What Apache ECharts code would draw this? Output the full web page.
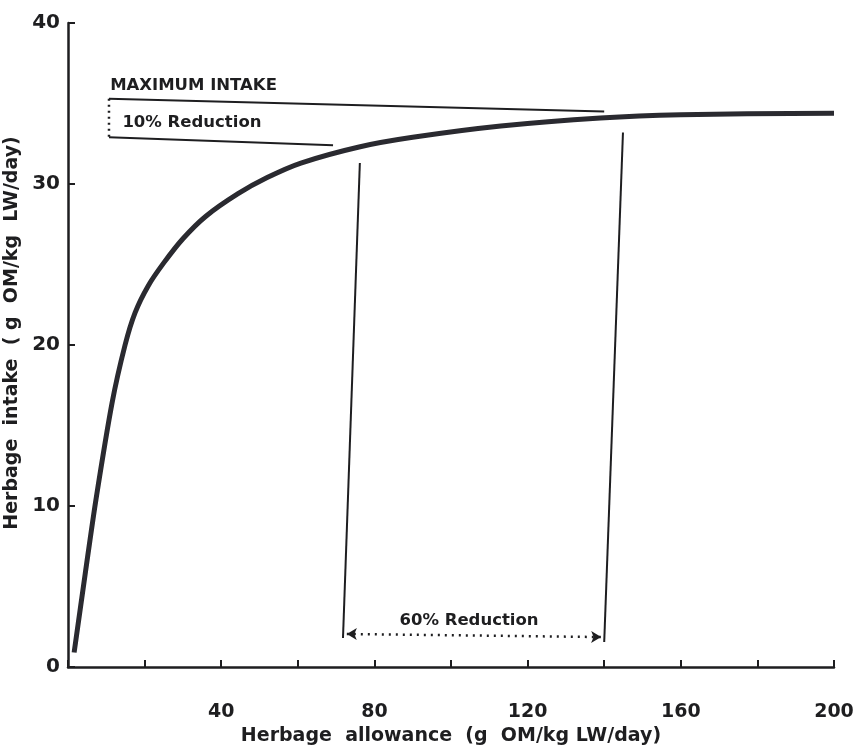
<!DOCTYPE html>
<html><head><meta charset="utf-8">
<script src="https://cdn.jsdelivr.net/npm/echarts@6/dist/echarts.min.js"></script>
<style>html,body{margin:0;padding:0;background:#fff}#c{width:854px;height:748px}</style>
</head><body><div id="c"></div>
<script>
// Response curve: herbage intake vs herbage allowance
const curveX = [1.6, 4.5, 7.3, 11.5, 14.9, 17.5, 21, 25, 30, 36, 44.4, 52, 60.8, 76, 90, 113, 139, 160, 200];
const curveY = [0.9, 5.8, 10.4, 16.4, 20.0, 22.0, 23.7, 25.1, 26.6, 28.0, 29.4, 30.4, 31.3, 32.3, 32.9, 33.6, 34.1, 34.3, 34.4];
// Annotation lines (data units)
const maxIntakeLine = [[10.7, 35.3], [140, 34.5]];
const tenPctBracket = [[10.7, 35.3], [10.7, 32.9]];
const tenPctLine = [[10.7, 32.9], [69.2, 32.4]];
const leftBound = [[76.2, 31.3], [71.8, 1.8]];
const rightBound = [[144.9, 33.2], [140, 1.55]];
const sixtyArrow = [[72.8, 2.05], [139.2, 1.86]];
// Annotation texts
const noteTexts = ['MAXIMUM INTAKE', '10% Reduction', '60% Reduction'];
const notePos = [[11.0, 36.1], [14.2, 33.8], [104.7, 2.85]];
const xLabelsShown = [40, 80, 120, 160, 200];
const yTicks = [0, 10, 20, 30, 40];

const ink = '#1e1e20';
const font = 'DejaVu Sans';
const chart = echarts.init(document.getElementById('c'), null, {renderer: 'canvas'});
const lineSeries = (data, opts) => Object.assign({
  type: 'line', data: data, showSymbol: false, silent: true, animation: false,
  lineStyle: {color: ink, width: 2}
}, opts || {});

chart.setOption({
  backgroundColor: '#fff',
  animation: false,
  grid: {left: 68, right: 20, top: 23, bottom: 81, containLabel: false, outerBoundsMode: 'none'},
  xAxis: {
    type: 'value', min: 0, max: 200, interval: 20,
    name: 'Herbage  allowance  (g  OM/kg LW/day)', nameLocation: 'middle', nameGap: 55,
    nameTextStyle: {color: ink, fontFamily: font, fontWeight: 'bold', fontSize: 19},
    axisLine: {show: true, lineStyle: {color: ink, width: 2.5}},
    axisTick: {show: true, inside: true, length: 7, lineStyle: {color: ink, width: 2}},
    axisLabel: {color: ink, fontFamily: font, fontWeight: 'bold', fontSize: 19, margin: 36,
      formatter: v => xLabelsShown.indexOf(v) >= 0 ? String(v) : ''},
    splitLine: {show: false}
  },
  yAxis: {
    type: 'value', min: 0, max: 40, interval: 10,
    name: 'Herbage  intake  ( g  OM/kg  LW/day)', nameLocation: 'middle', nameGap: 41, nameRotate: 90,
    nameTextStyle: {color: ink, fontFamily: font, fontWeight: 'bold', fontSize: 19, padding: [0, 0, 0, 24]},
    axisLine: {show: true, lineStyle: {color: ink, width: 2.5}},
    axisTick: {show: true, inside: true, length: 7, lineStyle: {color: ink, width: 2}},
    axisLabel: {color: ink, fontFamily: font, fontWeight: 'bold', fontSize: 20, margin: 8,
      formatter: v => yTicks.indexOf(v) >= 0 ? String(v) : ''},
    splitLine: {show: false}
  },
  series: [
    lineSeries(curveX.map((x, i) => [x, curveY[i]]), {smooth: 0.3, lineStyle: {color: '#2a2a30', width: 5}}),
    lineSeries(maxIntakeLine),
    lineSeries(tenPctBracket, {lineStyle: {color: ink, width: 2.5, type: [2, 4]}}),
    lineSeries(tenPctLine),
    lineSeries(leftBound),
    lineSeries(rightBound),
    {
      type: 'line', data: [], silent: true, animation: false,
      markLine: {
        silent: true, animation: false, symbol: ['arrow', 'arrow'], symbolSize: [9, 10],
        label: {show: false},
        lineStyle: {color: ink, width: 2.5, type: [2, 5]},
        data: [[{coord: sixtyArrow[0]}, {coord: sixtyArrow[1]}]]
      }
    },
    {
      type: 'scatter', symbolSize: 0, silent: true, animation: false,
      itemStyle: {opacity: 1},
      data: notePos.map((p, i) => ({
        value: p,
        label: {
          show: true, formatter: noteTexts[i],
          position: i === 2 ? 'inside' : 'right', distance: 0,
          color: ink, fontFamily: font, fontWeight: 'bold', fontSize: 16.5
        }
      }))
    }
  ]
});
</script></body></html>
